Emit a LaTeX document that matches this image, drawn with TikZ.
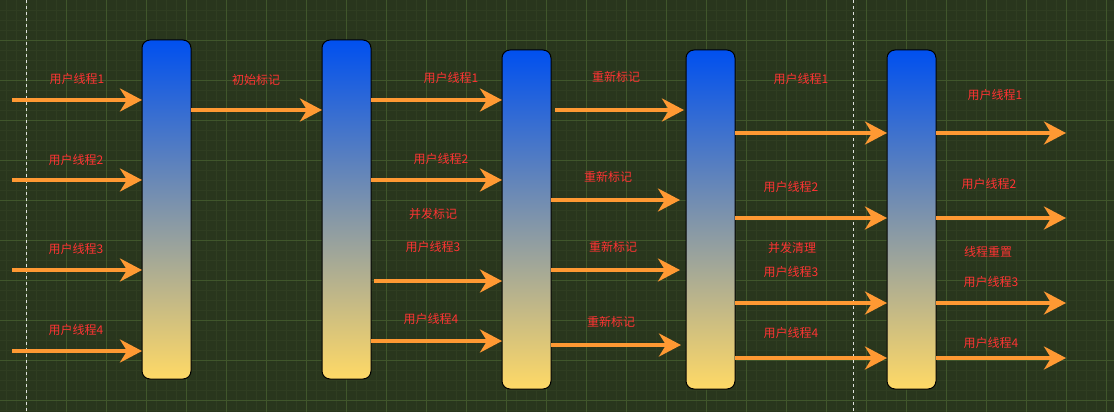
\documentclass[tikz,border=0pt]{standalone}
\usepackage{fontspec}
\newfontfamily\cjk{Noto Sans CJK SC}
\usepackage{tikz}
\usetikzlibrary{arrows.meta,positioning}
\definecolor{gcbg}{RGB}{41,54,29}
\definecolor{gcminor}{RGB}{47,61,33}
\definecolor{gcmajor}{RGB}{64,86,43}
\definecolor{gcblue}{RGB}{0,80,239}
\definecolor{gcyellow}{RGB}{255,217,102}
\definecolor{gcorange}{RGB}{255,153,51}
\definecolor{gcred}{RGB}{255,51,51}

\begin{document}
\begin{tikzpicture}[
  x=1pt, y=-1pt,
  every node/.style={font=\cjk\fontsize{12}{14}\selectfont},
  phase/.style={draw=black, line width=1pt, rounded corners=8pt,
                top color=gcblue, bottom color=gcyellow,
                minimum width=49pt, minimum height=339pt,
                inner sep=0pt, outer sep=0pt},
  flow/.style={-{Stealth[length=22pt, width=23pt, inset=7pt]},
               line width=4.5pt, gcorange},
  lbl/.style={text=gcred, inner sep=1pt},
  guide/.style={white!85!gcbg, line width=0.8pt, dash pattern=on 3pt off 3pt},
]

%% ── Canvas and grid ───────────────────────────────────────────────────────
\fill[gcbg] (0,0) rectangle (1114,412);
\useasboundingbox (0,0) rectangle (1114,412);
\foreach \gx in {6,16,...,1114} \draw[gcminor, line width=0.6pt] (\gx,0) -- (\gx,412);
\foreach \gy in {10,20,...,412} \draw[gcminor, line width=0.6pt] (0,\gy) -- (1114,\gy);
\foreach \gx in {26,66,...,1114} \draw[gcmajor, line width=0.9pt] (\gx,0) -- (\gx,412);
\foreach \gy in {40,80,...,412} \draw[gcmajor, line width=0.9pt] (0,\gy) -- (1114,\gy);

% dashed guides
\draw[guide] (26,0) -- (26,412);
\draw[guide] (853,0) -- (853,412);

%% ── Phases ────────────────────────────────────────────────────────────────
\node[phase] (P1) at (166.5,209.5) {};
\node[phase] (P2) at (346.5,209.5) {};
\node[phase] (P3) at (526.5,219.5) {};
\node[phase] (P4) at (710.5,219.5) {};
\node[phase] (P5) at (911.5,219.5) {};

%% ── Rows ──────────────────────────────────────────────────────────────────
\coordinate (in1) at (12,100);
\coordinate (in2) at (12,180);
\coordinate (in3) at (12,270);
\coordinate (in4) at (12,351);
\coordinate (init) at (0,110);
\coordinate (c1) at (0,100);
\coordinate (c2) at (0,180);
\coordinate (c3) at (374,281);
\coordinate (c4) at (0,341);
\coordinate (r1) at (0,110);
\coordinate (r2) at (0,200);
\coordinate (r3) at (0,270);
\coordinate (r4) at (0,345);
\coordinate (e1) at (0,133);
\coordinate (e2) at (0,218);
\coordinate (e3) at (0,303);
\coordinate (e4) at (0,358);
\coordinate (out1) at (1066,133);
\coordinate (out2) at (1066,218);
\coordinate (out3) at (1066,303);
\coordinate (out4) at (1066,358);

%% ── Arrows ────────────────────────────────────────────────────────────────
% user threads into the first pause
\draw[flow] (in1) -- (in1 -| P1.west);
\draw[flow] (in2) -- (in2 -| P1.west);
\draw[flow] (in3) -- (in3 -| P1.west);
\draw[flow] (in4) -- (in4 -| P1.west);

% initial mark
\draw[flow] (P1.east |- init) -- (P2.west |- init);

% concurrent mark
\draw[flow] (P2.east |- c1) -- (P3.west |- c1);
\draw[flow] (P2.east |- c2) -- (P3.west |- c2);
\draw[flow] (c3) -- (c3 -| P3.west);
\draw[flow] (P2.east |- c4) -- (P3.west |- c4);

% remark
\draw[flow, shorten <=4pt, shorten >=2pt] (P3.east |- r1) -- (P4.west |- r1);
\draw[flow, shorten >=6pt] (P3.east |- r2) -- (P4.west |- r2);
\draw[flow, shorten >=6pt] (P3.east |- r3) -- (P4.west |- r3);
\draw[flow, shorten >=5pt] (P3.east |- r4) -- (P4.west |- r4);

% concurrent sweep
\draw[flow] (P4.east |- e1) -- (P5.west |- e1);
\draw[flow] (P4.east |- e2) -- (P5.west |- e2);
\draw[flow] (P4.east |- e3) -- (P5.west |- e3);
\draw[flow] (P4.east |- e4) -- (P5.west |- e4);

% reset
\draw[flow] (P5.east |- out1) -- (out1);
\draw[flow] (P5.east |- out2) -- (out2);
\draw[flow] (P5.east |- out3) -- (out3);
\draw[flow] (P5.east |- out4) -- (out4);

%% ── Labels ────────────────────────────────────────────────────────────────
\node[lbl] (lIn1) at (77,79)  {用户线程1};
\node[lbl] (lIn2) at (76,160) {用户线程2};
\node[lbl] (lIn3) at (76,249) {用户线程3};
\node[lbl] (lIn4) at (76,330) {用户线程4};

\node[lbl] (lInit) at (256,80) {初始标记};

\node[lbl] (lC1) at (451,78)  {用户线程1};
\node[lbl] (lC2) at (441,159) {用户线程2};
\node[lbl] (lCM) at (433,214) {并发标记};
\node[lbl] (lC3) at (433,247) {用户线程3};
\node[lbl] (lC4) at (431,319) {用户线程4};

\node[lbl] (lR1) at (616,77)  {重新标记};
\node[lbl] (lR2) at (608,177) {重新标记};
\node[lbl] (lR3) at (613,247) {重新标记};
\node[lbl] (lR4) at (611,322) {重新标记};

\node[lbl] (lE1) at (801,79)  {用户线程1};
\node[lbl] (lE2) at (791,187) {用户线程2};
\node[lbl] (lCS) at (792,248) {并发清理};
\node[lbl] (lE3) at (791,272) {用户线程3};
\node[lbl] (lE4) at (791,333) {用户线程4};

\node[lbl] (lO1) at (995,95)  {用户线程1};
\node[lbl] (lO2) at (989,184) {用户线程2};
\node[lbl] (lRS) at (988,252) {线程重置};
\node[lbl] (lO3) at (991,282) {用户线程3};
\node[lbl] (lO4) at (991,343) {用户线程4};

\end{tikzpicture}
\end{document}
